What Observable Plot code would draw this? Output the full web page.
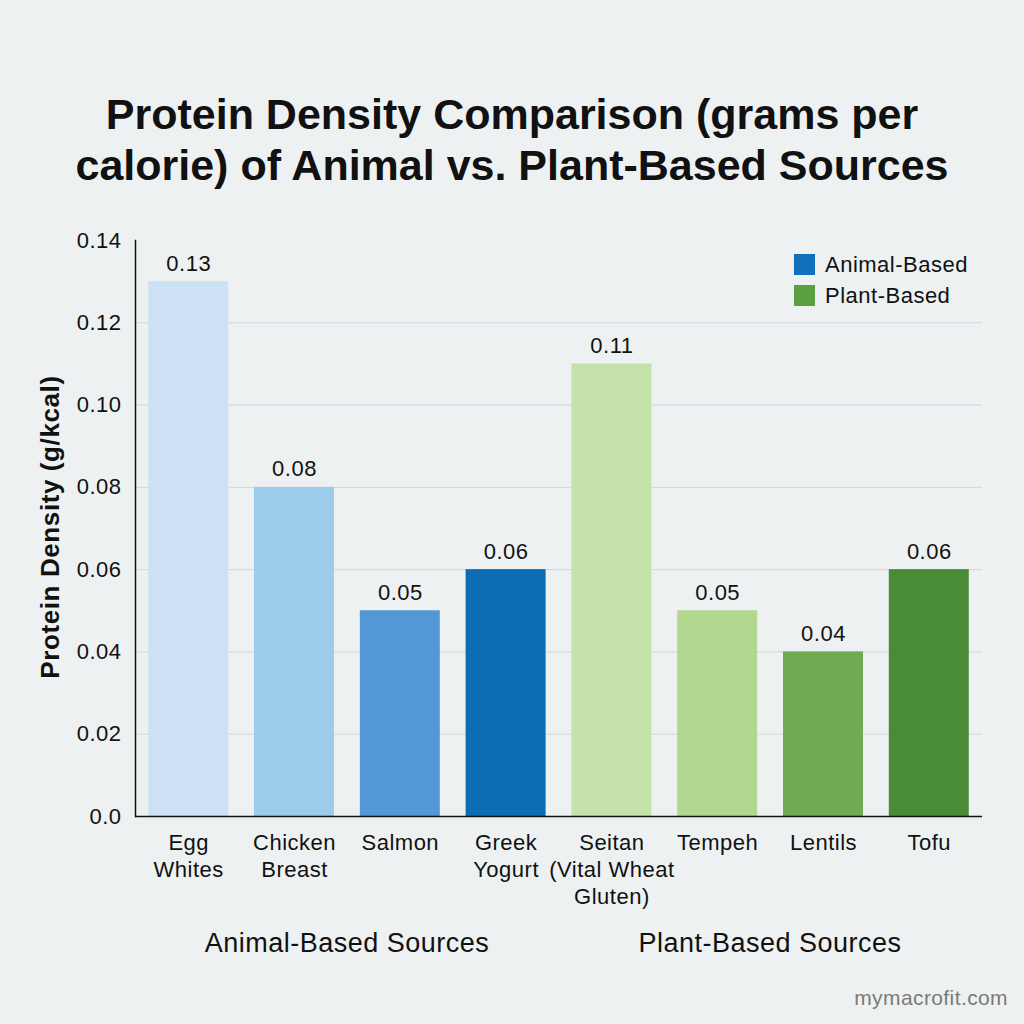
<!DOCTYPE html>
<html>
<head>
<meta charset="utf-8">
<script src="https://cdn.jsdelivr.net/npm/d3@7"></script>
<script src="https://cdn.jsdelivr.net/npm/@observablehq/plot@0.6"></script>
<style>
  html, body { margin: 0; padding: 0; }
  body { width: 1024px; height: 1024px; background: #eef1f2; position: relative; overflow: hidden; font-family: "Liberation Sans", Arial, sans-serif; color: #111; }
  #title { position: absolute; top: 89px; left: 0; width: 1024px; text-align: center; font-size: 43px; font-weight: bold; line-height: 51px; }
  #chart { position: absolute; top: 220px; left: 0; }
  #chart svg text { letter-spacing: 0.5px; }
  #ylabel { position: absolute; left: 50px; top: 527px; transform: translate(-50%, -50%) rotate(-90deg); font-size: 26px; font-weight: bold; white-space: nowrap; letter-spacing: 0.6px; }
  #legend { position: absolute; left: 794px; top: 249px; font-size: 22px; letter-spacing: 0.5px; }
  #legend div { display: flex; align-items: center; height: 31px; }
  #legend span.sw { display: inline-block; width: 21px; height: 21px; margin-right: 10px; }
  .group { position: absolute; top: 928px; font-size: 27px; transform: translateX(-50%); white-space: nowrap; letter-spacing: 0.5px; }
  #credit { position: absolute; right: 16px; top: 986px; font-size: 21px; color: #7a7a7a; letter-spacing: 0.4px; }
</style>
</head>
<body>
<div id="title">Protein Density Comparison (grams per<br>calorie) of Animal vs. Plant-Based Sources</div>
<div id="chart"></div>
<div id="ylabel">Protein Density (g/kcal)</div>
<div id="legend"></div>
<div class="group" style="left:347px">Animal-Based Sources</div>
<div class="group" style="left:770px">Plant-Based Sources</div>
<div id="credit">mymacrofit.com</div>
<script>
const categories = ["Egg Whites", "Chicken Breast", "Salmon", "Greek Yogurt", "Seitan (Vital Wheat Gluten)", "Tempeh", "Lentils", "Tofu"];
const tickLabels = ["Egg\nWhites", "Chicken\nBreast", "Salmon", "Greek\nYogurt", "Seitan\n(Vital Wheat\nGluten)", "Tempeh", "Lentils", "Tofu"];
const values = [0.13, 0.08, 0.05, 0.06, 0.11, 0.05, 0.04, 0.06];
const groups = ["Animal-Based", "Animal-Based", "Animal-Based", "Animal-Based", "Plant-Based", "Plant-Based", "Plant-Based", "Plant-Based"];
const yTicks = [0, 0.02, 0.04, 0.06, 0.08, 0.10, 0.12, 0.14];
const gridTicks = [0.02, 0.04, 0.06, 0.08, 0.10, 0.12];
const legendGroups = ["Animal-Based", "Plant-Based"];

const barColors = ["#cde1f5", "#9dcbea", "#5198d4", "#0c6db4", "#c3e1a9", "#b1d88e", "#6eab53", "#4a8b35"];
const legendColors = ["#1270bb", "#5b9f42"];

const data = categories.map((c, i) => ({category: c, value: values[i], group: groups[i]}));
const labelOf = new Map(categories.map((c, i) => [c, tickLabels[i]]));

const chart = Plot.plot({
  width: 1024,
  height: 700,
  marginLeft: 135,
  marginRight: 42,
  marginTop: 20,
  marginBottom: 104,
  style: { background: "transparent", fontFamily: "Liberation Sans, Arial, sans-serif", fontSize: "22px", color: "#111" },
  x: { domain: categories, paddingInner: 0.244, paddingOuter: 0.125, round: false, label: null },
  y: { domain: [0, 0.14], label: null },
  color: { domain: categories, range: barColors },
  marks: [
    Plot.gridY(gridTicks, { stroke: "#d3d6d8", strokeOpacity: 1, strokeWidth: 1 }),
    Plot.barY(data, { x: "category", y: "value", fill: "category" }),
    Plot.text(data, { x: "category", y: "value", text: d => d3.format(".2f")(d.value), dy: -18, fontSize: 22, fill: "#111" }),
    Plot.axisY(yTicks, { tickSize: 0, tickPadding: 14, tickFormat: d => d === 0 ? "0.0" : d3.format(".2f")(d), fontSize: 22, label: null }),
    Plot.axisX({ tickSize: 0, tickPadding: 14, tickFormat: d => labelOf.get(d), fontSize: 22, lineHeight: 1.23, label: null }),
    Plot.ruleY([0], { stroke: "#111", strokeWidth: 1.5 }),
    Plot.frame({ anchor: "left", stroke: "#111", strokeWidth: 1.5 })
  ]
});
document.getElementById("chart").appendChild(chart);

const legend = document.getElementById("legend");
legendGroups.forEach((g, i) => {
  const row = document.createElement("div");
  const sw = document.createElement("span");
  sw.className = "sw";
  sw.style.background = legendColors[i];
  row.appendChild(sw);
  row.appendChild(document.createTextNode(g));
  legend.appendChild(row);
});
</script>
</body>
</html>
